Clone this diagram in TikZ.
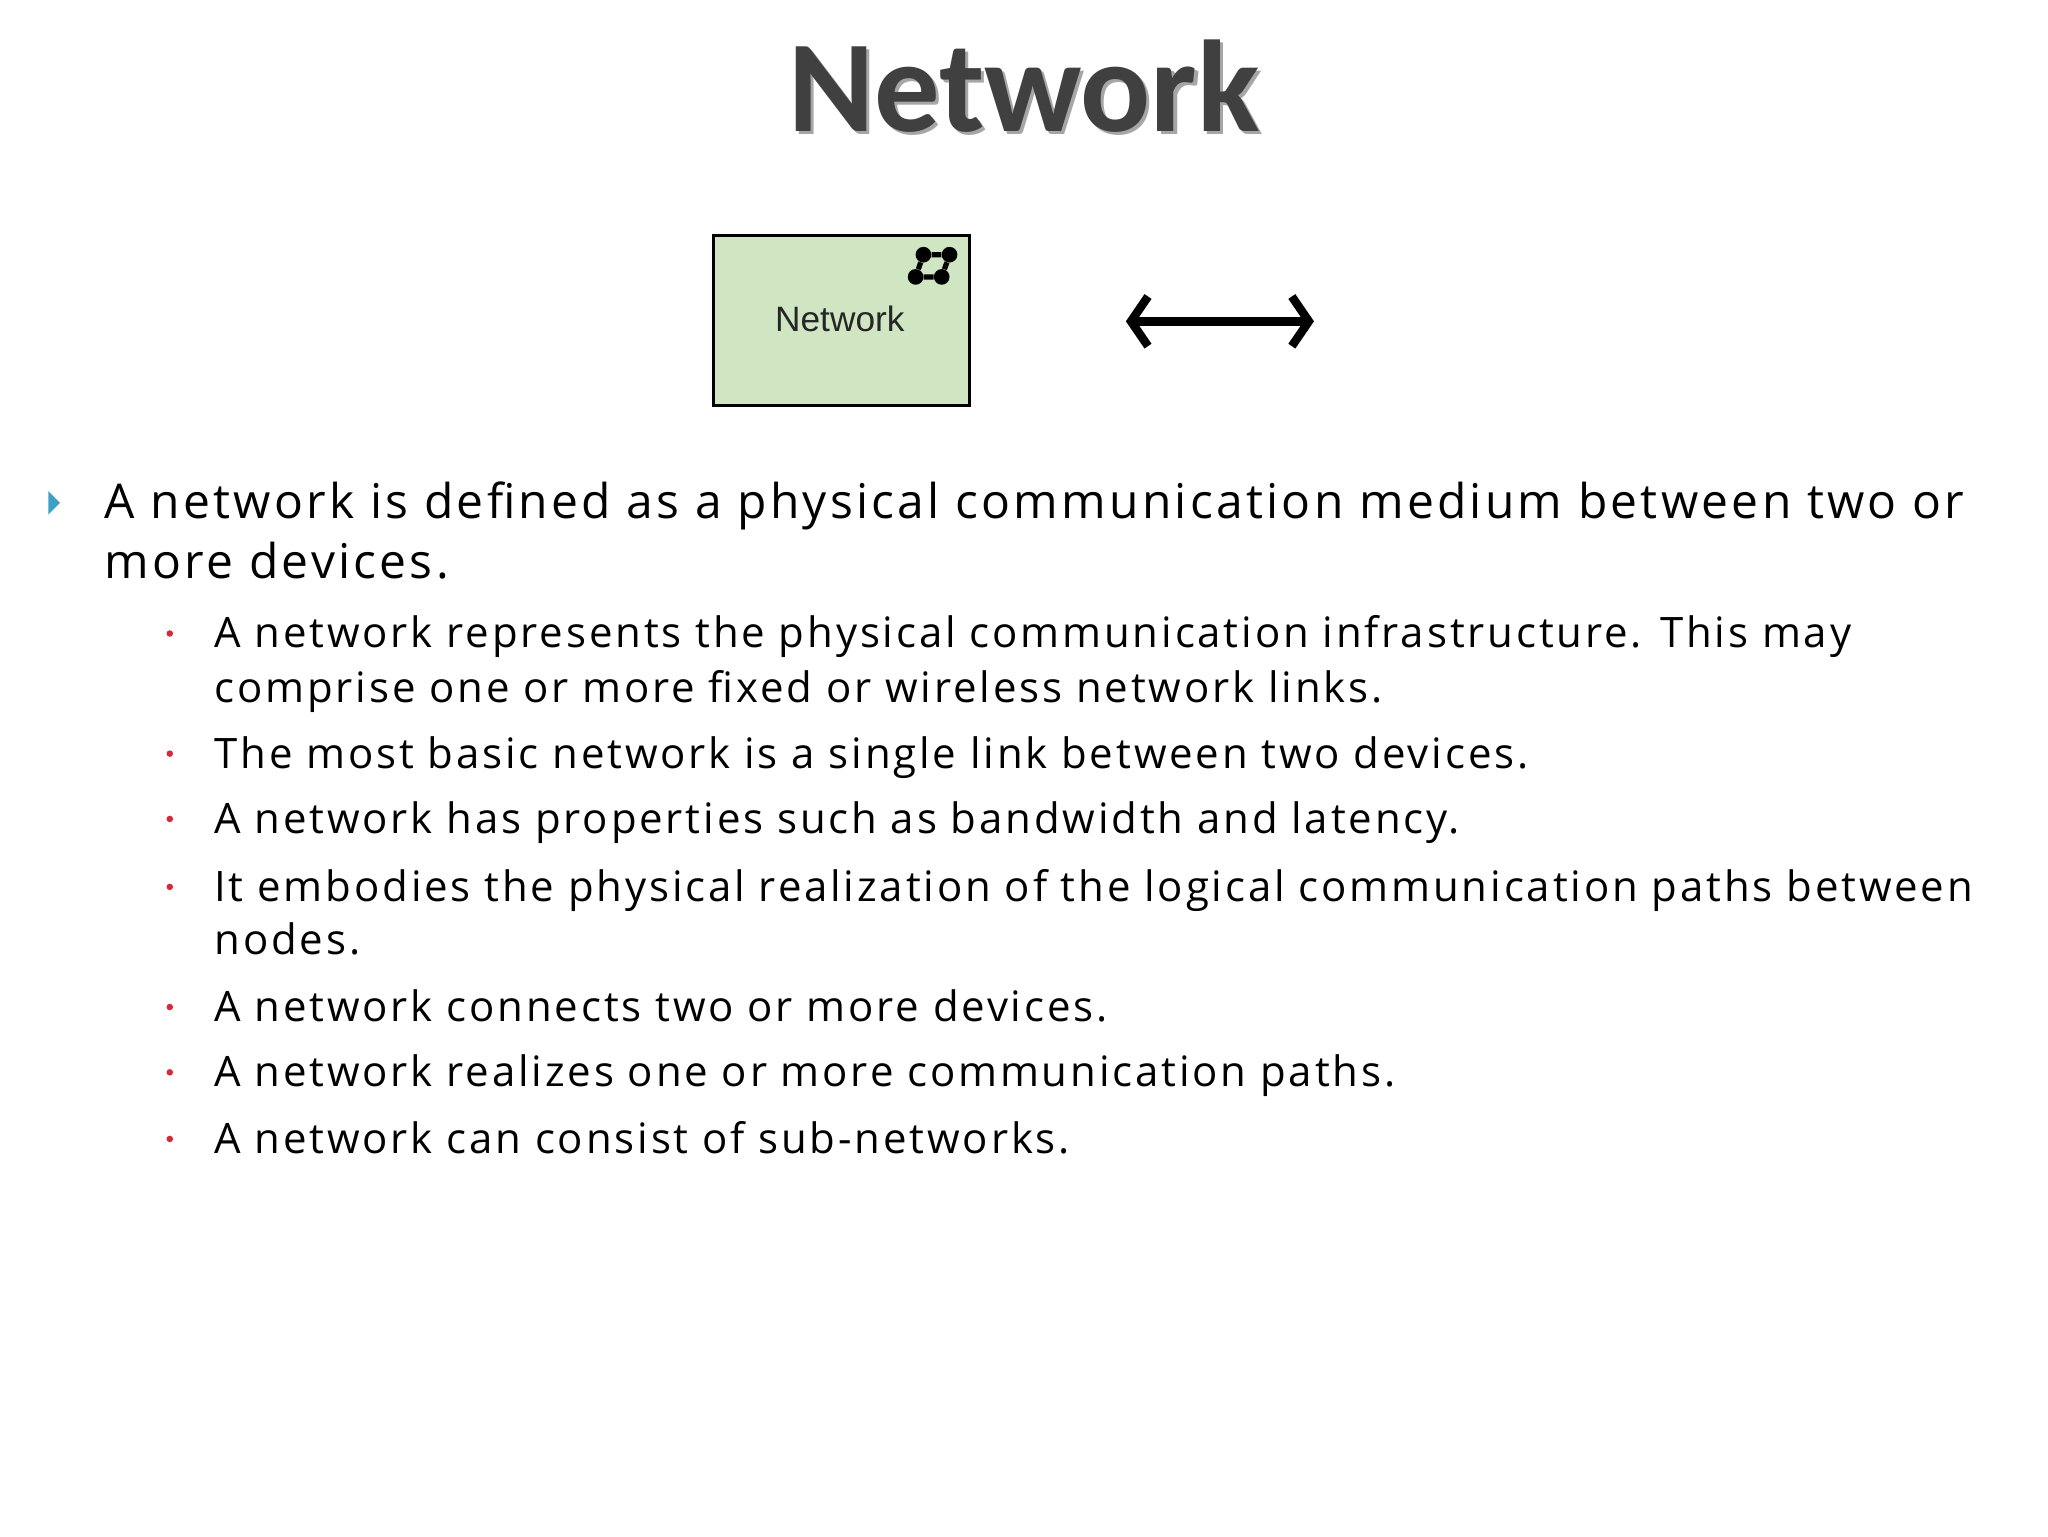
\documentclass[tikz,border=0pt]{standalone}
\usepackage{fontspec}
\setmainfont[LetterSpace=6.8]{Open Sans}
\newfontfamily\titlefont{Carlito}
\usetikzlibrary{arrows.meta,shadows}
\definecolor{boxgreen}{RGB}{208,230,195}
\definecolor{bulletblue}{RGB}{60,160,200}
\definecolor{bulletred}{RGB}{215,40,60}
\tikzset{
 mainline/.style={anchor=base west,inner sep=0pt,font=\fontsize{36.7}{40}\selectfont},
 subline/.style={anchor=base west,inner sep=0pt,font=\fontsize{32.1}{36}\selectfont},
 subdot/.style={circle,fill=bulletred,inner sep=0pt,minimum size=5pt},
 icondot/.style={circle,fill=black,inner sep=0pt,minimum size=12pt},
}
\begin{document}
\begin{tikzpicture}[x=1pt,y=-1pt]
\useasboundingbox (0,0) rectangle (1568,1176);
\fill[white] (0,0) rectangle (1568,1176);
\node[font=\titlefont\bfseries\fontsize{100}{108}\selectfont,text=black!35,inner sep=0pt] (titlesh) at (786.5,68.5) {Network};
\node[font=\titlefont\bfseries\fontsize{100}{108}\selectfont,text=black!75,inner sep=0pt] (title) at (784,66) {Network};
\node[draw=black,line width=2.5pt,fill=boxgreen,minimum width=196pt,minimum height=130pt,inner sep=0pt] (box) at (644,245.5) {};
\node[font=\fontspec{Liberation Sans}\fontsize{27}{30}\selectfont,inner sep=0pt,text=black!85] (boxlbl) at (643,244) {Network};
\node[icondot] (d1) at (707,195) {};
\node[icondot] (d2) at (727,195) {};
\node[icondot] (d3) at (701,212) {};
\node[icondot] (d4) at (721,212) {};
\draw[line width=4pt] (d1) -- (d2) -- (d4) -- (d3) -- (d1);
\coordinate (al) at (862,246);
\coordinate (ar) at (1006,246);
\draw[line width=6.5pt,{Straight Barb[length=13pt,width=38pt]}-{Straight Barb[length=13pt,width=38pt]}] (al) -- (ar);
\fill[bulletblue] (37,376) -- (46,385) -- (37,394) -- cycle;
\node[mainline] (m1) at (80,397) {A network is defined as a physical communication medium between two or};
\node[mainline] (m2) at (80,443) {more devices.};
\foreach \y/\t [count=\i] in {496/{A network represents the physical communication infrastructure. This may},
 588/{The most basic network is a single link between two devices.},
 638/{A network has properties such as bandwidth and latency.},
 690/{It embodies the physical realization of the logical communication paths between},
 782/{A network connects two or more devices.},
 832/{A network realizes one or more communication paths.},
 883/{A network can consist of sub-networks.}}{
 \node[subdot] (b\i) at (130,\y-11) {};
 \node[subline] (s\i) at (164,\y) {\t};
}
\node[subline] (s1b) at (164,538) {comprise one or more fixed or wireless network links.};
\node[subline] (s4b) at (164,731) {nodes.};
\end{tikzpicture}
\end{document}
